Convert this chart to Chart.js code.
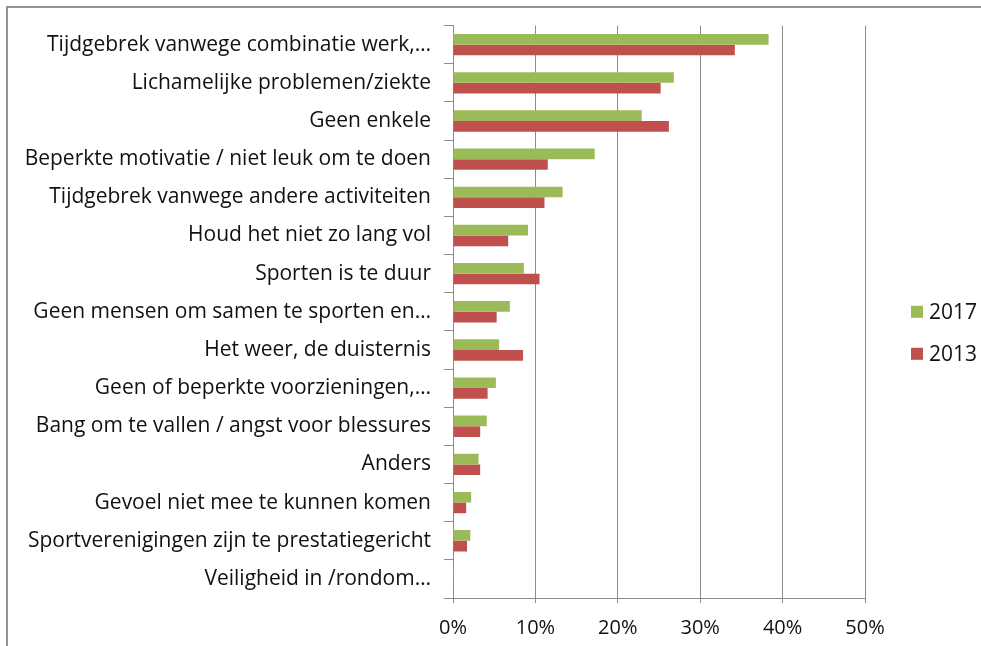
<!DOCTYPE html>
<html>
<head>
<meta charset="utf-8">
<script src="https://cdn.jsdelivr.net/npm/chart.js@4"></script>
<style>
    html, body { margin: 0; padding: 0; background: #fff; overflow: hidden; }
    #page { position: relative; width: 981px; height: 646px; overflow: hidden; }
    #frame { position: absolute; left: 6px; top: 6px; width: 1000px; height: 700px; border: 2px solid #939393; }
    #wrap { position: absolute; left: 0; top: 0; width: 981px; height: 646px; }
</style>
</head>
<body>
<div id="page">
    <div id="frame"></div>
    <div id="wrap"><canvas id="barriersChart" width="981" height="646"></canvas></div>
</div>
<script>
const redenen = [
    'Tijdgebrek vanwege combinatie werk,…',
    'Lichamelijke problemen/ziekte',
    'Geen enkele',
    'Beperkte motivatie / niet leuk om te doen',
    'Tijdgebrek vanwege andere activiteiten',
    'Houd het niet zo lang vol',
    'Sporten is te duur',
    'Geen mensen om samen te sporten en…',
    'Het weer, de duisternis',
    'Geen of beperkte voorzieningen,…',
    'Bang om te vallen / angst voor blessures',
    'Anders',
    'Gevoel niet mee te kunnen komen',
    'Sportverenigingen zijn te prestatiegericht',
    'Veiligheid in /rondom…'
];

const jaren = ['2017', '2013'];
const waarden2017 = [38.3, 26.8, 22.9, 17.2, 13.3, 9.1, 8.6, 6.9, 5.6, 5.2, 4.1, 3.1, 2.2, 2.1, 0.1];
const waarden2013 = [34.2, 25.2, 26.2, 11.5, 11.1, 6.7, 10.5, 5.3, 8.5, 4.2, 3.3, 3.3, 1.6, 1.7, 0];
const xTicks = [0, 10, 20, 30, 40, 50];

const kleuren = ['#9bbb59', '#c0504d'];
const lijnKleur = '#8c8c8c';
const lettertype = '"Open Sans", sans-serif';

// legend drawn to the right of the plot, centred on the chart area
const legendaRechts = {
    id: 'legendaRechts',
    afterDraw(chart) {
        const ctx = chart.ctx;
        const area = chart.chartArea;
        const midden = (area.top + area.bottom) / 2 + 21;
        ctx.save();
        ctx.font = '21px ' + lettertype;
        ctx.textBaseline = 'middle';
        ctx.textAlign = 'left';
        chart.data.datasets.forEach((ds, i) => {
            const y = midden - 21 + i * 42;
            ctx.fillStyle = ds.backgroundColor;
            ctx.fillRect(911, y - 6, 12, 12);
            ctx.fillStyle = '#111';
            ctx.fillText(ds.label, 929, y + 1);
        });
        ctx.restore();
    }
};

const ctx = document.getElementById('barriersChart').getContext('2d');

new Chart(ctx, {
    type: 'bar',
    data: {
        labels: redenen,
        datasets: [{
            label: jaren[0],
            data: waarden2017,
            backgroundColor: kleuren[0]
        }, {
            label: jaren[1],
            data: waarden2013,
            backgroundColor: kleuren[1]
        }]
    },
    options: {
        indexAxis: 'y',
        responsive: false,
        animation: false,
        categoryPercentage: 0.56,
        barPercentage: 1,
        layout: {
            padding: { top: 22, right: 116, bottom: 0, left: 0 }
        },
        plugins: {
            legend: { display: false },
            tooltip: { enabled: false }
        },
        scales: {
            x: {
                min: 0,
                max: 50,
                afterBuildTicks: scale => {
                    scale.ticks = xTicks.map(v => ({ value: v }));
                },
                afterFit: scale => {
                    scale.height = 48;
                },
                grid: {
                    color: lijnKleur,
                    tickLength: 5,
                    lineWidth: 1
                },
                border: { color: lijnKleur },
                ticks: {
                    padding: 13,
                    color: '#111',
                    font: { family: lettertype, size: 20 },
                    callback: v => v + '%'
                }
            },
            y: {
                afterFit: scale => {
                    scale.width = 453;
                },
                grid: {
                    drawOnChartArea: false,
                    color: lijnKleur,
                    tickLength: 9,
                    offset: true
                },
                border: { color: lijnKleur },
                ticks: {
                    padding: 13,
                    color: '#111',
                    font: { family: lettertype, size: 21 }
                }
            }
        }
    },
    plugins: [legendaRechts]
});
</script>
</body>
</html>
